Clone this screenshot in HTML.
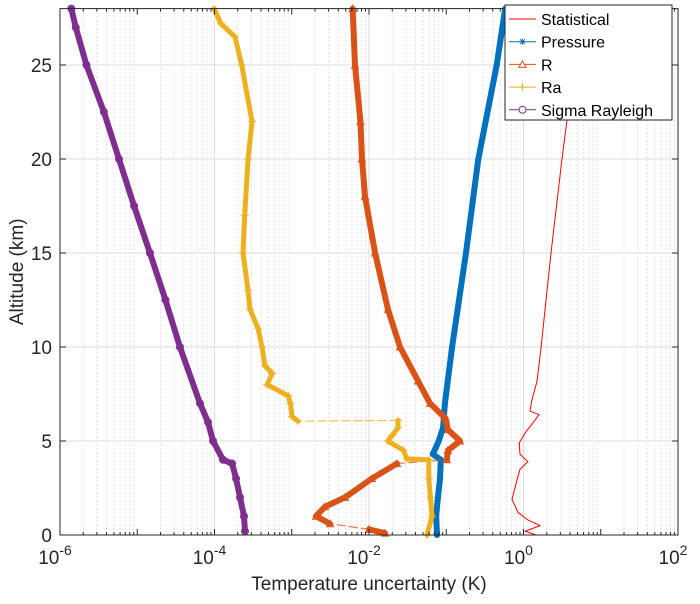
<!DOCTYPE html>
<html><head><meta charset="utf-8"><style>
body{margin:0;background:#fff;}
svg{font-family:"Liberation Sans",sans-serif;display:block;}
</style></head><body>
<svg id="chart" width="700" height="604"></svg>
<script>
const statAlt=[0,0.2,0.5,0.8,1.2,1.9,2.9,3.5,3.9,4.3,4.9,5.5,5.9,6.4,6.6,7.2,8.2,10,12,15,20,25,28];
const statVal=[1.45,1.05,1.64,1.14,0.85,0.71,0.82,0.90,1.14,0.90,0.88,1.08,1.29,1.59,1.21,1.29,1.50,1.69,1.90,2.27,3.15,4.51,5.38];
const presAlt=[0,1,2,3,4,4.3,5,5.7,7,10,15,20,25,28];
const presVal=[0.076,0.074,0.078,0.083,0.085,0.067,0.08,0.091,0.096,0.119,0.18,0.26,0.45,0.58];
const rAlt=[0.1,0.3,0.6,1.0,1.5,2,3,3.8,4.0,4.5,5,5.6,6.2,7,8.2,10,12,15,18,20,22,25,28];
const rVal=[0.0161,0.0100,0.00313,0.00206,0.00269,0.00489,0.0109,0.0230,0.102,0.105,0.151,0.105,0.098,0.0617,0.043,0.0252,0.0176,0.0120,0.00888,0.00812,0.00775,0.00659,0.00614];
const raAlt=[0,1,2,3,4,4.05,4.5,5,5.3,5.7,6.1,6.05,6.3,7,7.4,8,8.6,9,10,11,12,13,15,17,20,22,25,26.5,27.2,28];
const raVal=[0.0564,0.0655,0.0624,0.0595,0.0595,0.0310,0.0279,0.0176,0.0200,0.0237,0.0237,0.00120,0.00101,0.00096,0.00090,0.00048,0.00056,0.00045,0.000412,0.000366,0.000288,0.000272,0.000234,0.000246,0.000272,0.000306,0.000225,0.000184,0.000121,0.0000986];
const sigAlt=[0.2,1,2,3,3.8,4,5,6,7,10,12.5,15,17.5,20,22.5,25,27,28];
const sigVal=[0.000248,0.000241,0.000214,0.000190,0.000169,0.000129,0.0000957,0.0000824,0.0000649,0.0000357,0.0000232,0.0000146,0.0000091,0.0000058,0.0000037,0.0000022,0.0000016,0.0000014];
const xTickExp=[-6,-4,-2,0,2];
const yTicks=[0,5,10,15,20,25];

const NS="http://www.w3.org/2000/svg";
const svg=document.getElementById('chart');
const L=60,R=678,T=8.6,B=535;
const xMinE=-6,xMaxE=2,yMax=28;
function X(v){return L+(Math.log10(v)-xMinE)/(xMaxE-xMinE)*(R-L);}
function Y(h){return B-h/yMax*(B-T);}
function mk(tag,attrs,parent){const e=document.createElementNS(NS,tag);for(const k in attrs)e.setAttribute(k,attrs[k]);(parent||svg).appendChild(e);return e;}

const grid=mk('g',{});


for(let e=xMinE;e<xMaxE;e++){for(let m=2;m<=9;m++){const x=X(m*Math.pow(10,e));mk('line',{x1:x,x2:x,y1:T,y2:B,stroke:'#c8c8c8','stroke-width':1,'stroke-dasharray':'1,3'},grid);}}
for(const e of xTickExp){const x=X(Math.pow(10,e));mk('line',{x1:x,x2:x,y1:T,y2:B,stroke:'#dcdcdc','stroke-width':1},grid);}
for(const t of yTicks){mk('line',{x1:L,x2:R,y1:Y(t),y2:Y(t),stroke:'#dcdcdc','stroke-width':1},grid);}

function series(alt,val,color,width,name){
  const g=mk('g',{});
  
  
  for(let i=1;i<alt.length;i++){
    const jump=Math.abs(Math.log10(val[i])-Math.log10(val[i-1]))>0.4&&Math.abs(alt[i]-alt[i-1])<0.6;
    const a={x1:X(val[i-1]),y1:Y(alt[i-1]),x2:X(val[i]),y2:Y(alt[i]),stroke:color,'stroke-linecap':'round'};
    if(jump&&width>1){a['stroke-width']=1.2;a['stroke-dasharray']='8,4';a['stroke-opacity']=0.8;}
    else a['stroke-width']=width;
    mk('line',a,g);
  }
  return g;
}
const gs=series(statAlt,statVal,'#ff0000',1,'statistical-line');
const gp=series(presAlt,presVal,'#0072bd',6,'pressure-line');
const gr=series(rAlt,rVal,'#d95319',6,'r-line');
const gra=series(raAlt,raVal,'#edb120',5,'ra-line');
const gsg=series(sigAlt,sigVal,'#7e2f8e',6,'sigma-rayleigh-line');
rAlt.forEach((h,i)=>{const x=X(rVal[i]),y=Y(h);const m=mk('path',{d:`M${x-3.5},${y+3} L${x},${y-3.5} L${x+3.5},${y+3} Z`,fill:'none',stroke:'#d95319'},gr);});
raAlt.forEach((h,i)=>{const x=X(raVal[i]),y=Y(h);const m=mk('path',{d:`M${x-4},${y} H${x+4} M${x},${y-4} V${y+4}`,stroke:'#edb120'},gra);});
sigAlt.forEach((h,i)=>{const m=mk('circle',{cx:X(sigVal[i]),cy:Y(h),r:3.5,fill:'none',stroke:'#7e2f8e'},gsg);});

const ax=mk('g',{});


mk('rect',{x:L,y:T,width:R-L,height:B-T,fill:'none',stroke:'#262626','stroke-width':1},ax);
for(let e=xMinE;e<xMaxE;e++){for(let m=1;m<=9;m++){const x=X(m*Math.pow(10,e));const len=m===1?6:3;mk('line',{x1:x,x2:x,y1:B,y2:B-len,stroke:'#262626'},ax);mk('line',{x1:x,x2:x,y1:T,y2:T+len,stroke:'#262626'},ax);}}
for(const t of yTicks){mk('line',{x1:L,x2:L+6,y1:Y(t),y2:Y(t),stroke:'#262626'},ax);mk('line',{x1:R,x2:R-6,y1:Y(t),y2:Y(t),stroke:'#262626'},ax);
  const tl=mk('text',{x:L-8,y:Y(t)+7,'text-anchor':'end','font-size':19,fill:'#262626'},ax);tl.textContent=t;
  }
for(const e of xTickExp){const x=X(Math.pow(10,e));const tl=mk('text',{x:x-5,y:564,'text-anchor':'middle','font-size':19,fill:'#262626'},ax);
  
  tl.textContent='10';const s=mk('tspan',{dy:-9,'font-size':14},tl);s.textContent=String(e);}
const xl=mk('text',{x:369,y:590,'text-anchor':'middle','font-size':19,fill:'#262626'});xl.textContent='Temperature uncertainty (K)';

const yl=mk('text',{x:0,y:0,'text-anchor':'middle','font-size':19,fill:'#262626',transform:`translate(23,${(T+B)/2}) rotate(-90)`});yl.textContent='Altitude (km)';


const lg=mk('g',{});


mk('rect',{x:505,y:5,width:167,height:115,fill:'#fff',stroke:'#262626'},lg);
const names=['Statistical','Pressure','R','Ra','Sigma Rayleigh'];
const cols=['#ff0000','#0072bd','#d95319','#edb120','#7e2f8e'];
names.forEach((n,i)=>{const y=19+i*22.7;
  const e=mk('g',{},lg);
  mk('line',{x1:509,x2:536,y1:y,y2:y,stroke:cols[i]},e);
  const cx=522.5;
  if(i===1)mk('path',{d:`M${cx-3},${y} H${cx+3} M${cx},${y-3} V${y+3} M${cx-2.5},${y-2.5} L${cx+2.5},${y+2.5} M${cx-2.5},${y+2.5} L${cx+2.5},${y-2.5}`,stroke:cols[i]},e);
  if(i===2)mk('path',{d:`M${cx-3.5},${y+3} L${cx},${y-3.5} L${cx+3.5},${y+3} Z`,fill:'#fff',stroke:cols[i]},e);
  if(i===3)mk('path',{d:`M${cx-4},${y} H${cx+4} M${cx},${y-4} V${y+4}`,stroke:cols[i]},e);
  if(i===4)mk('circle',{cx:cx,cy:y,r:3.5,fill:'#fff',stroke:cols[i]},e);
  const t=mk('text',{x:541,y:y+6,'font-size':16,fill:'#000'},e);t.textContent=n;});
</script>
</body></html>
